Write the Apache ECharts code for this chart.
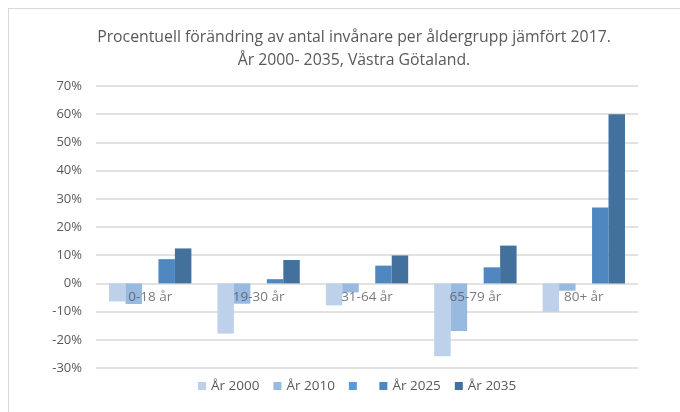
<!DOCTYPE html>
<html>
<head>
<meta charset="utf-8">
<script src="https://cdn.jsdelivr.net/npm/echarts@6/dist/echarts.min.js"></script>
<style>
  html, body { margin: 0; padding: 0; background: #fff; overflow: hidden; }
  #frame { position: absolute; left: 8px; top: 8px; width: 700px; height: 420px; border: 1.5px solid #d9d9d9; box-sizing: border-box; }
  #chart { position: absolute; left: 0; top: 0; width: 680px; height: 412px; }
</style>
</head>
<body>
<div id="frame"></div>
<div id="chart"></div>
<script>
// åldersgrupper
const categories = ['0-18 år', '19-30 år', '31-64 år', '65-79 år', '80+ år'];
const seriesNames = ['År 2000', 'År 2010', ' ', 'År 2025', 'År 2035'];
// procentuell förändring mot 2017
const ar2000 = [-6.4, -17.8, -7.8, -25.8, -10.1];
const ar2010 = [-7.3, -7.2, -3.2, -16.9, -2.6];
const arTom = [null, null, null, null, null];
const ar2025 = [8.6, 1.5, 6.3, 5.7, 26.9];
const ar2035 = [12.4, 8.3, 9.9, 13.4, 60.0];
const yTicks = { min: -30, max: 70, interval: 10 };

const colors = ['#bdd1ea', '#98b9e0', '#5b9bd5', '#4f88c0', '#41719c'];
const allData = [ar2000, ar2010, arTom, ar2025, ar2035];
const font = "'Open Sans', 'Liberation Sans', sans-serif";

const chart = echarts.init(document.getElementById('chart'));

const barSeries = seriesNames.map((name, i) => ({
  name: name,
  type: 'bar',
  data: allData[i],
  itemStyle: { color: colors[i] },
  barGap: '0%',
  barCategoryGap: '24%',
  z: 2
}));

// kategorietiketter vid nollinjen (som i Excel)
const labelSeries = {
  type: 'scatter',
  data: categories.map(c => [c, 0]),
  symbolSize: 0,
  silent: true,
  z: 5,
  label: {
    show: true,
    position: 'bottom',
    distance: 7,
    color: '#595959',
    fontSize: 13.5,
    formatter: p => p.value[0]
  }
};

const option = {
  animation: false,
  textStyle: { fontFamily: font },
  title: {
    text: 'Procentuell förändring av antal invånare per åldergrupp jämfört 2017.\nÅr 2000- 2035, Västra Götaland.',
    left: 349,
    textAlign: 'center',
    top: 21,
    textStyle: { fontSize: 15.8, fontWeight: 'normal', color: '#595959', lineHeight: 23, fontFamily: font }
  },
  legend: {
    bottom: 14,
    left: 193,
    itemWidth: 8,
    itemHeight: 8,
    itemGap: 14,
    icon: 'rect',
    textStyle: { color: '#595959', fontSize: 13.5, fontFamily: font },
    data: seriesNames
  },
  grid: { left: 96, right: 42, top: 86, bottom: 44 },
  xAxis: {
    type: 'category',
    data: categories,
    axisLine: { show: false },
    axisTick: { show: false },
    axisLabel: { show: false }
  },
  yAxis: {
    type: 'value',
    min: yTicks.min,
    max: yTicks.max,
    interval: yTicks.interval,
    axisLine: { show: false },
    axisTick: { show: false },
    axisLabel: { color: '#595959', fontSize: 13, margin: 14, formatter: '{value}%' },
    splitLine: { lineStyle: { color: '#d9d9d9', width: 1.5 } }
  },
  series: barSeries.concat([labelSeries])
};
chart.setOption(option);
</script>
</body>
</html>
